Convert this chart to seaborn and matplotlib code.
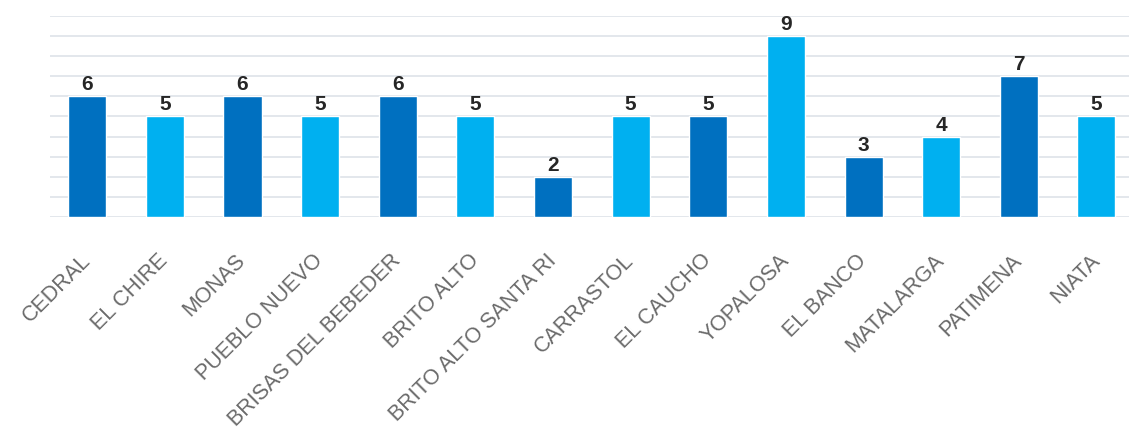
import matplotlib
matplotlib.use("Agg")
import matplotlib.pyplot as plt
import seaborn as sns
import pandas as pd

categories = ["CEDRAL", "EL CHIRE", "MONAS", "PUEBLO NUEVO", "BRISAS DEL BEBEDER",
              "BRITO ALTO", "BRITO ALTO SANTA RI", "CARRASTOL", "EL CAUCHO",
              "YOPALOSA", "EL BANCO", "MATALARGA", "PATIMENA", "NIATA"]
values = [6, 5, 6, 5, 6, 5, 2, 5, 5, 9, 3, 4, 7, 5]
bar_colors = ["#0070C0", "#00B0F0", "#0070C0", "#00B0F0", "#0070C0", "#00B0F0", "#0070C0",
              "#00B0F0", "#0070C0", "#00B0F0", "#0070C0", "#00B0F0", "#0070C0", "#00B0F0"]

sns.set_style("white")
plt.rcParams['font.family'] = ['Liberation Sans', 'DejaVu Sans']

df = pd.DataFrame({"cat": categories, "val": values})
fig = plt.figure(figsize=(11.29, 4.35), dpi=100)
ax = fig.add_axes([50 / 1129, 0.499, 1079 / 1129, 0.462])
sns.barplot(data=df, x="cat", y="val", hue="cat", palette=bar_colors, legend=False,
            width=0.49, ax=ax, saturation=1)
ax.set_xlim(-0.48, 13.42)
ax.set_ylim(0, 10)
ax.set_yticks(range(0, 11))
ax.yaxis.grid(True, color="#E1E5EA", linewidth=1.3)
ax.set_axisbelow(True)
ax.tick_params(axis="y", left=False, labelleft=False)
ax.tick_params(axis="x", bottom=False, pad=25)
for s in ax.spines.values():
    s.set_visible(False)
ax.set_xlabel("")
ax.set_ylabel("")
ax.set_xticks(range(len(categories)))
ax.set_xticklabels(categories, rotation=45, ha="right", va="center", rotation_mode="anchor",
                   fontsize=15.5, color="#6A6A6A")
for i, v in enumerate(values):
    ax.text(i, v + 0.15, str(v), ha="center", va="bottom", fontsize=15,
            fontweight="bold", color="#262626")
fig.savefig("out.png", dpi=100)
